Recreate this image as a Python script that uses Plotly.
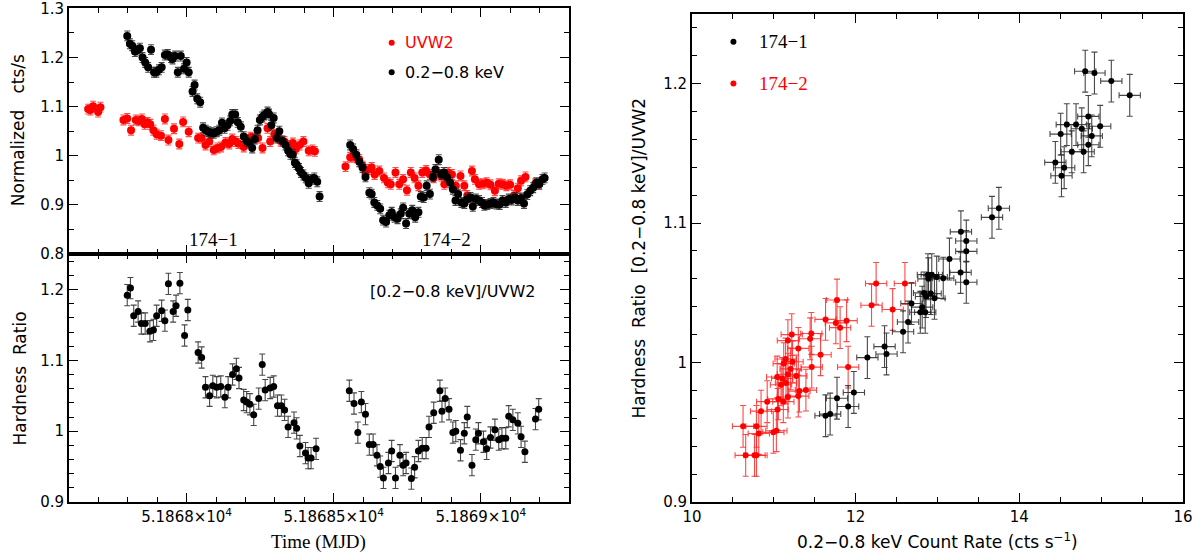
import plotly.graph_objects as go

# ---------------- Top panel: normalized light curves ----------------
t_soft_1 = [51867.798, 51867.807, 51867.815, 51867.824, 51867.832, 51867.841, 51867.850, 51867.859,
            51867.869, 51867.879, 51867.889, 51867.897, 51867.906, 51867.915, 51867.926, 51867.936,
            51867.947, 51867.952, 51867.961, 51867.970, 51867.980, 51867.991, 51868.000, 51868.007,
            51868.020, 51868.027, 51868.036, 51868.046, 51868.056, 51868.065, 51868.074, 51868.083,
            51868.092, 51868.102, 51868.111, 51868.120, 51868.129, 51868.139, 51868.148, 51868.155,
            51868.165, 51868.174, 51868.184, 51868.194, 51868.203, 51868.214, 51868.223, 51868.232,
            51868.241, 51868.249, 51868.257, 51868.264, 51868.275, 51868.280, 51868.288, 51868.296,
            51868.306, 51868.315, 51868.326, 51868.336, 51868.345, 51868.353, 51868.361, 51868.368,
            51868.374, 51868.382, 51868.389, 51868.397, 51868.405, 51868.415, 51868.423, 51868.434,
            51868.444, 51868.452]
r_soft_1 = [1.244, 1.228, 1.224, 1.212, 1.215, 1.219, 1.200, 1.190, 1.180, 1.216, 1.170, 1.170,
            1.175, 1.180, 1.205, 1.206, 1.200, 1.197, 1.203, 1.170, 1.203, 1.177, 1.190, 1.170,
            1.131, 1.144, 1.116, 1.109, 1.057, 1.052, 1.049, 1.047, 1.046, 1.049, 1.052, 1.067,
            1.056, 1.062, 1.071, 1.084, 1.084, 1.068, 1.059, 1.039, 1.030, 1.026, 1.016, 1.034,
            1.052, 1.073, 1.079, 1.083, 1.089, 1.085, 1.062, 1.077, 1.036, 1.050, 1.030, 1.022,
            1.010, 1.003, 1.002, 0.986, 0.982, 0.974, 0.966, 0.961, 0.955, 0.944, 0.952, 0.955,
            0.947, 0.917]
t_soft_2 = [51868.556, 51868.566, 51868.577, 51868.587, 51868.598, 51868.608, 51868.621, 51868.629,
            51868.638, 51868.648, 51868.658, 51868.668, 51868.678, 51868.689, 51868.697, 51868.707,
            51868.717, 51868.728, 51868.736, 51868.746, 51868.757, 51868.767, 51868.777, 51868.788,
            51868.796, 51868.806, 51868.816, 51868.827, 51868.837, 51868.846, 51868.857, 51868.866,
            51868.875, 51868.885, 51868.896, 51868.905, 51868.914, 51868.923, 51868.934, 51868.944,
            51868.954, 51868.965, 51868.973, 51868.983, 51868.994, 51869.004, 51869.012, 51869.022,
            51869.033, 51869.043, 51869.053, 51869.064, 51869.074, 51869.085, 51869.095, 51869.105,
            51869.116, 51869.126, 51869.137, 51869.147, 51869.158, 51869.168, 51869.178, 51869.189,
            51869.199, 51869.210, 51869.217]
r_soft_2 = [1.022, 1.014, 1.002, 0.988, 0.976, 0.957, 0.925, 0.922, 0.905, 0.899, 0.892, 0.869,
            0.865, 0.879, 0.885, 0.875, 0.872, 0.882, 0.894, 0.862, 0.882, 0.889, 0.875, 0.885,
            0.917, 0.915, 0.939, 0.922, 0.957, 0.972, 0.992, 0.962, 0.966, 0.957, 0.945, 0.932,
            0.909, 0.922, 0.905, 0.903, 0.912, 0.915, 0.897, 0.912, 0.909, 0.905, 0.899, 0.901,
            0.903, 0.905, 0.902, 0.901, 0.909, 0.905, 0.912, 0.910, 0.915, 0.909, 0.914, 0.903,
            0.921, 0.929, 0.935, 0.945, 0.942, 0.952, 0.955]
t_uvw2_1 = [51867.665, 51867.673, 51867.682, 51867.699, 51867.707, 51867.785, 51867.798, 51867.811,
            51867.827, 51867.837, 51867.848, 51867.857, 51867.867, 51867.876, 51867.887, 51867.898,
            51867.913, 51867.926, 51867.938, 51867.957, 51867.975, 51867.988, 51868.007, 51868.039,
            51868.051, 51868.064, 51868.077, 51868.092, 51868.105, 51868.117, 51868.132, 51868.145,
            51868.155, 51868.167, 51868.176, 51868.194, 51868.204, 51868.217, 51868.230, 51868.243,
            51868.258, 51868.275, 51868.284, 51868.298, 51868.309, 51868.319, 51868.332, 51868.348,
            51868.361, 51868.371, 51868.384, 51868.397, 51868.415, 51868.428, 51868.436]
r_uvw2_1 = [1.095, 1.093, 1.101, 1.089, 1.099, 1.073, 1.076, 1.052, 1.073, 1.071, 1.075, 1.064,
            1.068, 1.064, 1.052, 1.044, 1.041, 1.075, 1.032, 1.055, 1.024, 1.069, 1.049, 1.036,
            1.036, 1.022, 1.029, 1.012, 1.016, 1.018, 1.027, 1.024, 1.034, 1.029, 1.025, 1.018,
            1.029, 1.038, 1.036, 1.036, 1.016, 1.056, 1.029, 1.044, 1.038, 1.030, 1.029, 1.021,
            1.026, 1.014, 1.022, 1.029, 1.010, 1.012, 1.009]
t_uvw2_2 = [51868.540, 51868.556, 51868.566, 51868.577, 51868.587, 51868.598, 51868.608, 51868.618,
            51868.629, 51868.639, 51868.655, 51868.671, 51868.684, 51868.694, 51868.710, 51868.723,
            51868.736, 51868.749, 51868.762, 51868.775, 51868.788, 51868.801, 51868.814, 51868.827,
            51868.840, 51868.853, 51868.866, 51868.876, 51868.889, 51868.902, 51868.915, 51868.931,
            51868.944, 51868.954, 51868.970, 51868.980, 51868.994, 51869.007, 51869.020, 51869.033,
            51869.048, 51869.061, 51869.074, 51869.087, 51869.100, 51869.113, 51869.126, 51869.137,
            51869.152, 51869.185, 51869.198]
r_uvw2_2 = [0.978, 0.997, 0.999, 0.996, 0.992, 0.979, 0.964, 0.972, 0.976, 0.962, 0.969, 0.955,
            0.945, 0.942, 0.966, 0.942, 0.952, 0.930, 0.966, 0.955, 0.939, 0.966, 0.970, 0.962,
            0.955, 0.966, 0.959, 0.942, 0.966, 0.962, 0.939, 0.959, 0.939, 0.919, 0.969, 0.952,
            0.942, 0.943, 0.945, 0.941, 0.929, 0.943, 0.942, 0.939, 0.941, 0.919, 0.934, 0.949,
            0.957, 0.943, 0.943]
err_lc = 0.01

# ---------------- Bottom panel: hardness ratio vs time ----------------
t_hr = [51867.798, 51867.809, 51867.820, 51867.835, 51867.846, 51867.859, 51867.875, 51867.887,
        51867.898, 51867.915, 51867.926, 51867.938, 51867.954, 51867.964, 51867.977, 51867.993,
        51868.004, 51868.039, 51868.051, 51868.064, 51868.078, 51868.089, 51868.102, 51868.116,
        51868.130, 51868.141, 51868.156, 51868.169, 51868.178, 51868.194, 51868.204, 51868.215,
        51868.228, 51868.245, 51868.257, 51868.267, 51868.284, 51868.296, 51868.309, 51868.322,
        51868.333, 51868.345, 51868.365, 51868.374, 51868.385, 51868.404, 51868.413, 51868.423,
        51868.440,
        51868.553, 51868.569, 51868.582, 51868.594, 51868.608, 51868.621, 51868.634, 51868.647,
        51868.658, 51868.669, 51868.686, 51868.697, 51868.710, 51868.725, 51868.736, 51868.746,
        51868.764, 51868.775, 51868.788, 51868.801, 51868.814, 51868.824, 51868.840, 51868.861,
        51868.868, 51868.879, 51868.892, 51868.905, 51868.915, 51868.931, 51868.944, 51868.954,
        51868.970, 51868.983, 51868.992, 51869.009, 51869.020, 51869.033, 51869.048, 51869.061,
        51869.072, 51869.085, 51869.095, 51869.109, 51869.126, 51869.137, 51869.150, 51869.186,
        51869.197]
hr = [1.192, 1.202, 1.163, 1.169, 1.152, 1.152, 1.141, 1.143, 1.163, 1.170, 1.156, 1.208,
      1.169, 1.177, 1.209, 1.135, 1.171, 1.111, 1.104, 1.062, 1.050, 1.064, 1.062, 1.063,
      1.048, 1.062, 1.080, 1.088, 1.075, 1.044, 1.041, 1.038, 1.023, 1.046, 1.094, 1.058,
      1.061, 1.063, 1.036, 1.036, 1.030, 1.006, 1.012, 1.004, 0.979, 0.969, 0.962, 0.962,
      0.975,
      1.057, 1.039, 0.998, 1.041, 1.024, 0.981, 0.981, 0.966, 0.950, 0.934, 0.955, 0.972,
      0.934, 0.966, 0.952, 0.955, 0.933, 0.949, 0.972, 0.976, 0.976, 1.006, 1.026, 1.057,
      1.028, 1.046, 1.031, 0.998, 1.000, 0.973, 0.997, 1.020, 0.952, 0.988, 0.997, 0.985,
      0.975, 0.991, 1.002, 0.988, 0.990, 0.990, 1.021, 1.016, 1.011, 0.992, 0.971, 1.017,
      1.031]
err_hr = 0.015

# ---------------- Right panel: hardness ratio vs count rate ----------------
rate_1 = [14.805, 14.918, 15.124, 15.349, 14.843, 14.580, 14.693, 14.763, 14.988, 14.505, 14.885,
          14.843, 14.641, 14.786, 14.440, 14.548, 14.515, 13.750, 13.666, 13.286, 13.352, 13.352,
          13.146, 13.282, 12.883, 12.930, 12.990, 13.070, 12.890, 13.352, 12.836, 12.916, 12.860,
          12.963, 12.682, 12.813, 12.850, 12.790, 12.640, 12.579, 12.353, 12.377, 12.143, 11.978,
          11.772, 11.908, 11.688, 11.632]
ratio_1 = [1.2089, 1.2076, 1.2018, 1.1916, 1.1765, 1.1706, 1.1706, 1.1676, 1.1694, 1.1638, 1.1625,
           1.1562, 1.1511, 1.1511, 1.1435, 1.1397, 1.1339, 1.1106, 1.1041, 1.0937, 1.0871, 1.0797,
           1.0742, 1.0646, 1.0630, 1.0630, 1.0613, 1.0605, 1.0600, 1.0575, 1.0499, 1.0494, 1.0473,
           1.0460, 1.0423, 1.0397, 1.0360, 1.0360, 1.0290, 1.0220, 1.0114, 1.0061, 1.0035, 0.9785,
           0.9744, 0.9684, 0.9630, 0.9618]
rate_2 = [12.250, 12.602, 12.194, 12.452, 11.772, 11.632, 11.758, 11.810, 11.889, 11.458, 11.219,
          11.444, 11.172, 11.299, 11.571, 11.144, 11.228, 11.121, 11.463, 11.908, 11.205, 11.172,
          11.275, 11.041, 11.102, 11.149, 11.088, 11.392, 11.313, 10.919, 11.055, 11.172, 11.299,
          11.116, 10.844, 11.046, 10.624, 10.788, 10.816, 10.994, 11.031, 10.656, 10.764, 10.788]
ratio_2 = [1.0567, 1.0567, 1.0410, 1.0380, 1.0448, 1.0309, 1.0284, 1.0250, 1.0300, 1.0208, 1.0200,
           1.0170, 1.0157, 1.0101, 1.0056, 1.0025, 1.0005, 0.9992, 0.9967, 0.9967, 0.9954, 0.9916,
           0.9904, 0.9896, 0.9886, 0.9853, 0.9840, 0.9802, 0.9795, 0.9719, 0.9739, 0.9752, 0.9759,
           0.9719, 0.9651, 0.9663, 0.9542, 0.9542, 0.9491, 0.9499, 0.9511, 0.9334, 0.9334, 0.9334]
err_rate = 0.13
err_ratio = 0.015

# ---------------- Text ----------------
x_ticks_time = [51868.0, 51868.5, 51869.0]
x_ticktext_time = ["5.1868×10<sup>4</sup>", "5.18685×10<sup>4</sup>", "5.1869×10<sup>4</sup>"]
y_ticks_top = [0.8, 0.9, 1.0, 1.1, 1.2, 1.3]
y_ticktext_top = ["0.8", "0.9", "1", "1.1", "1.2", "1.3"]
y_ticks_hr = [0.9, 1.0, 1.1, 1.2]
y_ticktext_hr = ["0.9", "1", "1.1", "1.2"]
x_ticks_rate = [10, 12, 14, 16]

BLACK = "#000000"
RED = "#ff0000"
SANS = "DejaVu Sans"
SERIF = "Liberation Serif"
NB = "\u00a0"

fig = go.Figure()


def pts(x, y, ey, color, ecolor, xa, ya, size=7, ex=None):
    kw = dict(x=x, y=y, mode="markers", xaxis=xa, yaxis=ya, showlegend=False,
              marker=dict(color=color, size=size, line=dict(width=0)),
              error_y=dict(type="constant", value=ey, color=ecolor, thickness=1.1, width=3),
              hoverinfo="x+y")
    if ex is not None:
        kw["error_x"] = dict(type="constant", value=ex, color=ecolor, thickness=1.1, width=3)
    fig.add_trace(go.Scatter(**kw))


RED_ERR = "rgba(255,40,40,0.85)"
BLK_ERR = "rgba(40,40,40,0.85)"
# top panel (xaxis2 / yaxis)
pts(t_uvw2_1, r_uvw2_1, err_lc, RED, RED_ERR, "x2", "y", size=8)
pts(t_uvw2_2, r_uvw2_2, err_lc, RED, RED_ERR, "x2", "y", size=8)
pts(t_soft_1, r_soft_1, err_lc, BLACK, BLK_ERR, "x2", "y", size=8)
pts(t_soft_2, r_soft_2, err_lc, BLACK, BLK_ERR, "x2", "y", size=8)
# bottom panel (xaxis / yaxis2)
pts(t_hr, hr, err_hr, BLACK, BLK_ERR, "x", "y2", size=7)
# right panel
pts(rate_2, ratio_2, err_ratio, RED, RED_ERR, "x3", "y3", size=6, ex=err_rate)
pts(rate_1, ratio_1, err_ratio, BLACK, BLK_ERR, "x3", "y3", size=6, ex=err_rate)

# legend keys
fig.add_trace(go.Scatter(x=[51868.697, 51868.697], y=[1.23, 1.17], mode="markers", xaxis="x2", yaxis="y",
                         marker=dict(color=[RED, BLACK], size=6), showlegend=False, hoverinfo="skip"))
fig.add_trace(go.Scatter(x=[10.506, 10.506], y=[1.230, 1.200], mode="markers", xaxis="x3", yaxis="y3",
                         marker=dict(color=[BLACK, RED], size=6), showlegend=False, hoverinfo="skip"))

L_DOM = [0.0574, 0.4734]
R_DOM = [0.5757, 0.9842]
TOP_DOM = [0.543, 0.985]
BOT_DOM = [0.097, 0.543]
R_Y_DOM = [0.097, 0.975]

common = dict(showline=True, linecolor="black", linewidth=2, mirror="allticks", ticks="inside",
              ticklen=9, tickwidth=1.2, tickcolor="black", showgrid=False, zeroline=False,
              automargin=False, ticklabeloverflow="allow",
              tickfont=dict(family=SANS, size=15, color="black"))
minor_common = dict(ticklen=5, tickwidth=1.2, tickcolor="black", ticks="inside")

fig.update_layout(
    width=1202, height=556, margin=dict(l=0, r=0, t=0, b=0, autoexpand=False),
    paper_bgcolor="white", plot_bgcolor="white",
    xaxis=dict(domain=L_DOM, range=[51867.6, 51869.3], anchor="y2",
               tickmode="array", tickvals=x_ticks_time, ticktext=x_ticktext_time,
               minor=dict(tickmode="linear", tick0=51867.6, dtick=0.1, **minor_common),
               **common),
    xaxis2=dict(domain=L_DOM, range=[51867.6, 51869.3], anchor="y", matches="x",
                tickmode="array", tickvals=x_ticks_time, ticktext=x_ticktext_time, showticklabels=False,
                minor=dict(tickmode="linear", tick0=51867.6, dtick=0.1, **minor_common),
                **common),
    yaxis=dict(domain=TOP_DOM, range=[0.7999, 1.3001], anchor="x2",
               tickmode="array", tickvals=y_ticks_top, ticktext=y_ticktext_top,
               minor=dict(tickmode="linear", tick0=0.8, dtick=0.05, **minor_common),
               **common),
    yaxis2=dict(domain=BOT_DOM, range=[0.8999, 1.25], anchor="x",
                tickmode="array", tickvals=y_ticks_hr, ticktext=y_ticktext_hr,
                minor=dict(tickmode="linear", tick0=0.9, dtick=0.02, **minor_common),
                **common),
    xaxis3=dict(domain=R_DOM, range=[9.9999, 16.0001], anchor="y3",
                tickmode="array", tickvals=x_ticks_rate,
                minor=dict(tickmode="linear", tick0=10, dtick=0.5, **minor_common),
                **common),
    yaxis3=dict(domain=R_Y_DOM, range=[0.8999, 1.25], anchor="x3",
                tickmode="array", tickvals=y_ticks_hr, ticktext=y_ticktext_hr,
                minor=dict(tickmode="linear", tick0=0.9, dtick=0.02, **minor_common),
                **common),
)


def A(x, y, text, family, size, color=BLACK, xref="paper", yref="paper", xanchor="center", angle=0):
    return dict(x=x, y=y, xref=xref, yref=yref, text=text, showarrow=False, xanchor=xanchor,
                yanchor="middle", textangle=angle, font=dict(family=family, size=size, color=color))


ann = [
    A(51868.735, 1.23, "UVW2", SANS, 16, RED, "x2", "y", "left"),
    A(51868.735, 1.17, "0.2−0.8" + NB + "keV", SANS, 16, BLACK, "x2", "y", "left"),
    A(51868.09, 0.83, "174−1", SERIF, 19, BLACK, "x2", "y"),
    A(51868.885, 0.83, "174−2", SERIF, 19, BLACK, "x2", "y"),
    A(51868.905, 1.197, "[0.2−0.8" + NB + "keV]/UVW2", SANS, 16, BLACK, "x", "y2"),
    A(10.8, 1.230, "174−1", SERIF, 19, BLACK, "x3", "y3", "left"),
    A(10.8, 1.200, "174−2", SERIF, 19, RED, "x3", "y3", "left"),
    # axis titles
    A(0.0150, 0.766, "Normalized" + NB * 3 + "cts/s", SANS, 17, angle=-90),
    A(0.0170, 0.32, "Hardness" + NB * 2 + "Ratio", SANS, 17, angle=-90),
    A(0.265, 0.025, "Time (MJD)", SERIF, 19),
    A(0.532, 0.536, "Hardness" + NB * 2 + "Ratio" + NB * 2 + "[0.2−0.8" + NB + "keV]/UVW2", SANS, 17, angle=-90),
    A(0.78, 0.027, "0.2−0.8" + NB + "keV" + NB + "Count" + NB + "Rate" + NB + "(cts" + NB + "s<sup>−1</sup>)",
      SANS, 17),
]
fig.update_layout(annotations=ann)

fig.write_html("out.html", config={"displayModeBar": False},
               post_script="document.body.style.margin='0px';document.body.style.padding='0px';")
